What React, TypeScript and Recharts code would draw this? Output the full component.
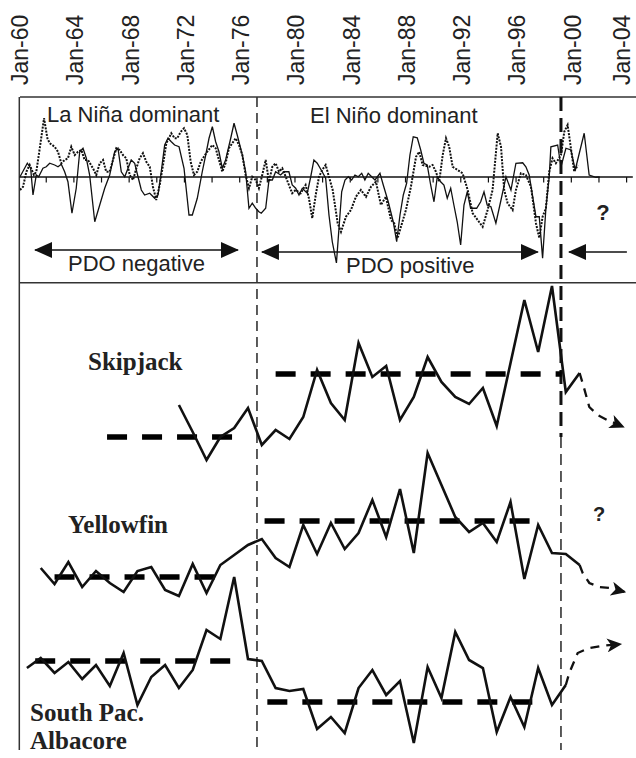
import React from "react";
import { ComposedChart, Line, XAxis, YAxis, ReferenceLine } from "recharts";

// top axis
const YEAR_TICKS = [1960, 1964, 1968, 1972, 1976, 1980, 1984, 1988, 1992, 1996, 2000, 2004];
const ZERO_TICKS = [1962, 1964, 1966, 1968, 1970, 1972, 1974, 1976, 1978, 1980, 1982, 1984, 1986, 1988, 1990, 1992, 1994, 1996, 1998, 2000, 2002, 2004];

// regime shifts
const SHIFT_1977 = 1977.15;
const SHIFT_1999 = 1999.15;

// climate indices (solid and dotted traces of the top panel)
const ensoIndex: [number, number][] = [
  [1960.0, 0.01], [1960.53, 0.55], [1960.77, 0.35], [1960.94, -0.72], [1961.18, 0.08], [1961.35, 0.01], [1961.66, 0.35], [1961.9, 0.41],
  [1962.15, 0.55], [1962.51, 0.48], [1962.75, 0.41], [1962.99, 0.51], [1963.23, 0.21], [1963.47, -0.19], [1963.76, -1.45], [1964.07, -0.45],
  [1964.32, 1.01], [1964.56, 1.15], [1964.8, 0.75], [1965.04, 0.08], [1965.41, -1.79], [1965.77, -1.12], [1966.13, -0.45], [1966.49, 0.08],
  [1966.85, 1.01], [1967.09, 1.15], [1967.33, 0.21], [1967.58, 0.01], [1968.05, 0.68], [1968.3, 0.55], [1968.54, 0.01], [1968.78, -0.52],
  [1969.02, -0.72], [1969.39, -0.65], [1969.75, -0.85], [1969.99, -0.72], [1970.22, 0.21], [1970.47, 1.28], [1970.71, 1.55], [1970.95, 1.41],
  [1971.19, 1.28], [1971.51, 1.21], [1971.87, 0.35], [1972.23, -1.52], [1972.47, -1.52], [1972.83, -0.85], [1973.19, 0.21], [1973.44, 0.88],
  [1973.68, 1.55], [1973.92, 2.01], [1974.16, 1.41], [1974.4, 1.01], [1974.64, 0.35], [1974.88, 0.68], [1975.25, 1.55], [1975.49, 2.15],
  [1975.72, 1.68], [1976.09, 0.88], [1976.33, 0.21], [1976.57, -1.25], [1976.81, -1.05], [1977.06, -1.25], [1977.29, -1.39], [1977.46, -1.45],
  [1977.78, -1.25], [1978.02, -0.12], [1978.26, -0.12], [1978.5, 0.21], [1978.86, 0.08], [1979.1, 0.21], [1979.46, 0.21], [1979.7, -0.32],
  [1979.95, -0.45], [1980.19, -0.72], [1980.43, -0.45], [1980.79, -0.65], [1981.04, 0.01], [1981.27, 0.68], [1981.51, 0.55], [1981.87, 0.21],
  [1982.12, -0.05], [1982.36, -1.52], [1982.6, -2.59], [1982.9, -3.44], [1983.28, -0.59], [1983.52, -0.12], [1983.76, 0.01], [1984.0, -0.12],
  [1984.24, 0.08], [1984.48, 0.01], [1984.73, 0.15], [1984.96, -0.12], [1985.2, 0.15], [1985.45, 0.01], [1985.69, -0.12], [1986.05, 0.15],
  [1986.29, -0.32], [1986.65, -0.99], [1987.01, -1.79], [1987.26, -2.59], [1987.5, -1.52], [1987.74, -0.72], [1987.98, -0.25], [1988.22, 0.88],
  [1988.46, 1.61], [1988.75, 1.57], [1989.0, 1.08], [1989.23, 0.55], [1989.47, 0.48], [1989.72, -0.32], [1989.96, -0.99], [1990.2, 0.01],
  [1990.44, -0.19], [1990.68, -0.32], [1990.92, -0.85], [1991.17, -0.45], [1991.4, -1.12], [1991.64, -1.79], [1991.89, -2.72], [1992.13, -1.12],
  [1992.37, -0.59], [1992.61, -1.25], [1993.05, -1.25], [1993.34, -0.99], [1993.58, -0.59], [1993.81, -1.12], [1994.08, -1.19], [1994.44, -1.85],
  [1994.81, -0.92], [1995.17, 0.01], [1995.53, -0.52], [1995.89, 0.55], [1996.38, 0.57], [1996.61, 0.41], [1996.85, 0.08], [1997.34, -1.59],
  [1997.58, -1.59], [1997.82, -3.25], [1998.06, -1.25], [1998.3, 0.01], [1998.42, 1.21], [1998.91, 1.28], [1999.15, 0.41], [1999.51, 1.15],
  [1999.87, 1.08], [2000.18, 0.28], [2000.83, 1.75], [2001.19, 0.08], [2001.68, -0.01], [2001.95, 0.0],
];

const pdoIndex: [number, number][] = [
  [1960.0, -0.52], [1960.22, -0.39], [1960.46, 0.21], [1960.7, 0.48], [1961.01, 0.08], [1961.18, 0.21], [1961.43, 1.15], [1961.74, 2.35],
  [1961.98, 1.55], [1962.15, 1.35], [1962.51, 1.21], [1962.75, 1.01], [1962.99, 0.55], [1963.23, 0.68], [1963.47, 0.75], [1963.71, 1.21],
  [1963.96, 0.88], [1964.2, 1.01], [1964.44, 1.08], [1964.68, 0.68], [1964.92, 0.68], [1965.28, 0.35], [1965.52, 0.08], [1965.77, 0.55],
  [1966.01, 0.68], [1966.24, 0.21], [1966.49, 0.21], [1966.73, 0.68], [1966.97, 1.15], [1967.21, 1.08], [1967.45, 0.88], [1967.69, 0.75],
  [1967.94, 0.08], [1968.18, -0.12], [1968.42, 0.35], [1968.66, 0.75], [1968.9, 0.95], [1969.14, 0.61], [1969.39, 0.41], [1969.62, -0.39],
  [1969.86, -0.92], [1970.11, -0.32], [1970.35, 0.48], [1970.59, 1.35], [1970.95, 1.75], [1971.19, 1.55], [1971.38, 1.55], [1971.63, 1.81],
  [1971.87, 1.95], [1972.11, 1.68], [1972.35, 0.61], [1972.59, 0.08], [1972.83, 0.21], [1973.08, 0.61], [1973.31, 0.81], [1973.55, 1.01],
  [1973.92, 1.28], [1974.16, 1.15], [1974.4, 0.68], [1974.64, 0.21], [1974.88, 0.55], [1975.12, 1.15], [1975.36, 1.35], [1975.61, 1.55],
  [1975.85, 1.28], [1976.09, 0.88], [1976.33, 0.08], [1976.57, -0.45], [1976.81, 0.01], [1977.06, -0.12], [1977.29, -0.45], [1977.53, 0.08],
  [1977.78, 0.68], [1978.02, -0.19], [1978.26, 0.41], [1978.5, 0.55], [1978.74, 0.21], [1978.98, 0.35], [1979.23, 0.01], [1979.46, -0.32],
  [1979.7, -0.65], [1979.95, -0.52], [1980.31, -0.65], [1980.67, -0.32], [1980.91, -0.85], [1981.15, -1.65], [1981.4, -0.72], [1981.64, 0.01],
  [1981.87, 0.28], [1982.12, 0.48], [1982.36, 0.01], [1982.63, -0.52], [1982.99, -1.85], [1983.23, -2.19], [1983.59, -1.59], [1983.95, -1.32],
  [1984.31, -0.79], [1984.67, -0.52], [1985.04, -0.79], [1985.4, -0.39], [1985.76, -0.19], [1986.12, -1.12], [1986.48, -0.79], [1986.85, -1.72],
  [1987.08, -1.85], [1987.33, -2.44], [1987.57, -1.99], [1987.93, -1.32], [1988.29, -0.39], [1988.66, 0.81], [1988.89, 1.01], [1989.14, 0.48],
  [1989.62, 0.41], [1989.86, 0.48], [1990.1, 0.21], [1990.34, -0.19], [1990.59, 0.88], [1990.83, 1.55], [1991.06, 1.21], [1991.31, 0.41],
  [1991.67, 0.28], [1992.03, 0.15], [1992.4, -0.52], [1992.76, -1.45], [1993.12, -1.72], [1993.48, -1.99], [1993.84, -1.32], [1994.2, -0.52],
  [1994.57, 1.75], [1994.81, 1.21], [1995.04, -0.52], [1995.29, -1.05], [1995.65, -1.32], [1995.89, -0.52], [1996.25, 0.15], [1996.61, 0.08],
  [1996.98, -0.39], [1997.34, -1.85], [1997.58, -2.44], [1997.82, -1.59], [1998.06, -1.25], [1998.3, 0.21], [1998.54, 0.75], [1998.78, 0.55],
  [1999.15, 0.88], [1999.39, 1.81], [1999.63, 2.08], [1999.87, 1.15], [2000.11, 0.21], [2000.36, 0.48],
];

// PDO phase arrows (start, end, level)
const pdoNegative = { start: 1961.09, end: 1975.77, level: -2.92 };
const pdoPositive = { start: 1977.51, end: 1997.48, level: -3.0 };
const pdoNext = { start: 1999.73, end: 2003.92, level: -3.0 };

// fish indices, annual, mid-year
const SKJ_START = 1971.5;
const skipjack = [3.2, 0.5, -2.3, 0.0, 0.9, 2.9, -0.8, 0.7, -0.2, 2.0, 6.7, 3.4, 1.7, 9.4, 6.0, 7.1, 1.7, 4.0, 8.0, 5.5, 4.0, 3.3, 4.9, 1.1, 7.4, 13.7, 8.5, 15.1, 4.5, 6.4];
const skipjackOutlook: [number, number][] = [[2000.5, 6.4], [2000.8, 5.0], [2001.2, 3.0], [2001.8, 2.2], [2002.5, 1.7], [2003.7, 1.0]];
const skipjackMeans = [
  { start: 1966.3, end: 1975.7, value: 0 },
  { start: 1978.5, end: 1999.2, value: 6.3 },
];

const YFT_START = 1961.5;
const yellowfin = [0.9, -0.7, 1.5, -1.0, 0.6, -0.6, -1.5, 0.6, 1.0, -1.3, -1.9, 1.3, -1.6, 1.2, 2.2, 3.2, 3.8, 1.9, 1.0, 5.2, 2.3, 5.4, 2.8, 4.4, 7.7, 4.0, 8.8, 2.4, 12.4, 9.2, 6.0, 4.5, 5.4, 3.5, 7.5, -0.2, 5.2, 2.4, 2.3, 1.2];
const yellowfinOutlook: [number, number][] = [[2000.5, 1.2], [2000.72, 0.4], [2001.2, -0.6], [2001.92, -1.0], [2002.64, -1.1], [2003.8, -1.5]];
const yellowfinMeans = [
  { start: 1962.5, end: 1975.0, value: 0 },
  { start: 1977.7, end: 1997.6, value: 5.6 },
];

const ALB_START = 1960.5;
const albacore = [-0.7, 0.3, -1.2, -0.1, -1.8, -0.4, -2.5, 0.8, -4.4, -1.6, -0.4, -2.7, -0.9, 3.1, 2.2, 8.4, 0.2, 0.0, -2.7, -3.0, -2.8, -6.8, -5.6, -7.2, -2.7, -0.9, -3.4, -2.0, -8.2, -0.6, -3.7, 2.9, 0.1, -0.7, -7.1, -3.6, -6.6, -0.7, -4.4, -2.4];
const albacoreOutlook: [number, number][] = [[1999.5, -2.4], [1999.75, -1.2], [2000.36, 0.8], [2001.2, 1.3], [2002.04, 1.5], [2003.5, 1.7]];
const albacoreMeans = [
  { start: 1961.1, end: 1975.6, value: 0 },
  { start: 1977.9, end: 1998.0, value: -4.1 },
];

const pairs = (rows: [number, number][]) => rows.map(([year, v]) => ({ year, v }));
const annual = (start: number, vals: number[]) => vals.map((v, i) => ({ year: start + i, v }));

const SANS = "'Liberation Sans', Arial, sans-serif";
const SERIF = "'Liberation Serif', 'Times New Roman', serif";

const YearTick = (props: any) => {
  const { x, y, payload } = props;
  const label = `Jan-${String(payload.value).slice(2)}`;
  // keep the last label inside the picture
  return (
    <text
      transform={`translate(${Math.min(x + 8, 630)},${y - 12}) rotate(-90)`}
      fontSize={23}
      fontFamily={SANS}
      fill="#222"
      textAnchor="start"
    >
      {label}
    </text>
  );
};

const common = { dot: false, activeDot: false, isAnimationActive: false, type: "linear" as const };

export default function App() {
  const fish = [
    { id: "skj", data: annual(SKJ_START, skipjack), outlook: pairs(skipjackOutlook), means: skipjackMeans },
    { id: "yft", data: annual(YFT_START, yellowfin), outlook: pairs(yellowfinOutlook), means: yellowfinMeans },
    { id: "alb", data: annual(ALB_START, albacore), outlook: pairs(albacoreOutlook), means: albacoreMeans },
  ];
  const arrow = (a: { start: number; end: number; level: number }) => [
    { year: a.start, v: a.level },
    { year: a.end, v: a.level },
  ];

  return (
    <div style={{ position: "absolute", left: 0, top: 0, width: 636, height: 758, background: "#fff" }}>
      <svg width={0} height={0} style={{ position: "absolute" }}>
        <defs>
          <marker id="pdoHead" viewBox="0 0 18 16" refX={17} refY={8} markerWidth={18} markerHeight={16}
            markerUnits="userSpaceOnUse" orient="auto-start-reverse">
            <path d="M0,0 L18,8 L0,16 z" fill="#111" />
          </marker>
          <marker id="fishHead" viewBox="0 0 15 14" refX={14} refY={7} markerWidth={15} markerHeight={14}
            markerUnits="userSpaceOnUse" orient="auto">
            <path d="M0,0 L15,7 L0,14 L4,7 z" fill="#111" />
          </marker>
        </defs>
      </svg>
      <ComposedChart width={636} height={758} margin={{ top: 0, right: 0, bottom: 8, left: 20 }}>
        <XAxis
          dataKey="year"
          type="number"
          domain={[1960, 2004.58]}
          ticks={YEAR_TICKS}
          interval={0}
          orientation="top"
          height={97}
          tickSize={0}
          tickMargin={0}
          tickLine={false}
          axisLine={false}
          tick={<YearTick />}
          allowDataOverflow
        />
        <YAxis yAxisId="enso" type="number" domain={[-22.92, 3.2]} hide allowDataOverflow />
        <YAxis yAxisId="skj" type="number" domain={[-31.3, 34]} hide allowDataOverflow />
        <YAxis yAxisId="yft" type="number" domain={[-17.3, 48]} hide allowDataOverflow />
        <YAxis yAxisId="alb" type="number" domain={[-8.9, 56.4]} hide allowDataOverflow />

        {/* frame */}
        <ReferenceLine yAxisId="enso" y={3.2} stroke="#333" strokeWidth={1.5} ifOverflow="visible" />
        <ReferenceLine yAxisId="enso" y={-4.23} stroke="#333" strokeWidth={1.5} ifOverflow="visible" />
        <ReferenceLine yAxisId="enso" x={1959.95} stroke="#333" strokeWidth={1.5} ifOverflow="visible" />
        <ReferenceLine yAxisId="enso" segment={[{ x: 1959.95, y: 0 }, { x: 2004.35, y: 0 }]} stroke="#111" strokeWidth={1.3} ifOverflow="visible" />
        {ZERO_TICKS.map((t) => (
          <ReferenceLine key={`zt-${t}`} yAxisId="enso" segment={[{ x: t - 0.1, y: 0 }, { x: t - 0.1, y: -0.22 }]}
            stroke="#111" strokeWidth={1.2} ifOverflow="visible" />
        ))}

        {/* regime shift lines */}
        <ReferenceLine yAxisId="enso" segment={[{ x: SHIFT_1977, y: 3.2 }, { x: SHIFT_1977, y: -22.92 }]}
          stroke="#333" strokeWidth={1.6} strokeDasharray="10 6" ifOverflow="visible" />
        <ReferenceLine yAxisId="enso" segment={[{ x: SHIFT_1999, y: 3.2 }, { x: SHIFT_1999, y: -10.4 }]}
          stroke="#111" strokeWidth={3} strokeDasharray="14 7" ifOverflow="visible" />
        <ReferenceLine yAxisId="enso" segment={[{ x: SHIFT_1999, y: -10.4 }, { x: SHIFT_1999, y: -22.92 }]}
          stroke="#333" strokeWidth={1.6} strokeDasharray="11 6" ifOverflow="visible" />

        {/* climate indices */}
        <Line {...common} yAxisId="enso" data={pairs(pdoIndex)} dataKey="v" stroke="#111" strokeWidth={2} strokeDasharray="2 1.3" />
        <Line {...common} yAxisId="enso" data={pairs(ensoIndex)} dataKey="v" stroke="#111" strokeWidth={1.3} />

        {/* PDO phase arrows */}
        <Line {...common} yAxisId="enso" data={arrow(pdoNegative)} dataKey="v" stroke="#111" strokeWidth={1.6}
          markerStart="url(#pdoHead)" markerEnd="url(#pdoHead)" />
        <Line {...common} yAxisId="enso" data={arrow(pdoPositive)} dataKey="v" stroke="#111" strokeWidth={1.6}
          markerStart="url(#pdoHead)" markerEnd="url(#pdoHead)" />
        <Line {...common} yAxisId="enso" data={arrow(pdoNext)} dataKey="v" stroke="#111" strokeWidth={1.6}
          markerStart="url(#pdoHead)" />

        {/* fish indices */}
        {fish.map((f) =>
          f.means.map((m, i) => (
            <ReferenceLine key={`${f.id}-m${i}`} yAxisId={f.id}
              segment={[{ x: m.start, y: m.value }, { x: m.end, y: m.value }]}
              stroke="#000" strokeWidth={5.5} strokeDasharray="20 15" ifOverflow="visible" />
          ))
        )}
        {fish.map((f) => (
          <Line key={f.id} {...common} yAxisId={f.id} data={f.data} dataKey="v" stroke="#111" strokeWidth={2.6} />
        ))}
        {fish.map((f) => (
          <Line key={`${f.id}-o`} {...common} yAxisId={f.id} data={f.outlook} dataKey="v" stroke="#111"
            strokeWidth={2.3} strokeDasharray="9 7" markerEnd="url(#fishHead)" />
        ))}
      </ComposedChart>

      <svg width={636} height={758} style={{ position: "absolute", left: 0, top: 0, pointerEvents: "none" }}>
        <g fontFamily={SANS} fontSize={22} fill="#222">
          <text x={47} y={122}>La Niña dominant</text>
          <text x={310} y={123}>El Niño dominant</text>
          <text x={68} y={271}>PDO negative</text>
          <text x={346} y={273}>PDO positive</text>
          <text x={603} y={220} textAnchor="middle" fontWeight="bold">?</text>
          <text x={599} y={521} textAnchor="middle" fontWeight="bold" fontSize={20}>?</text>
        </g>
        <g fontFamily={SERIF} fontSize={25} fontWeight="bold" fill="#222">
          <text x={88} y={370}>Skipjack</text>
          <text x={68} y={533}>Yellowfin</text>
          <text x={30} y={721}>South Pac.</text>
          <text x={30} y={749}>Albacore</text>
        </g>
      </svg>
    </div>
  );
}
